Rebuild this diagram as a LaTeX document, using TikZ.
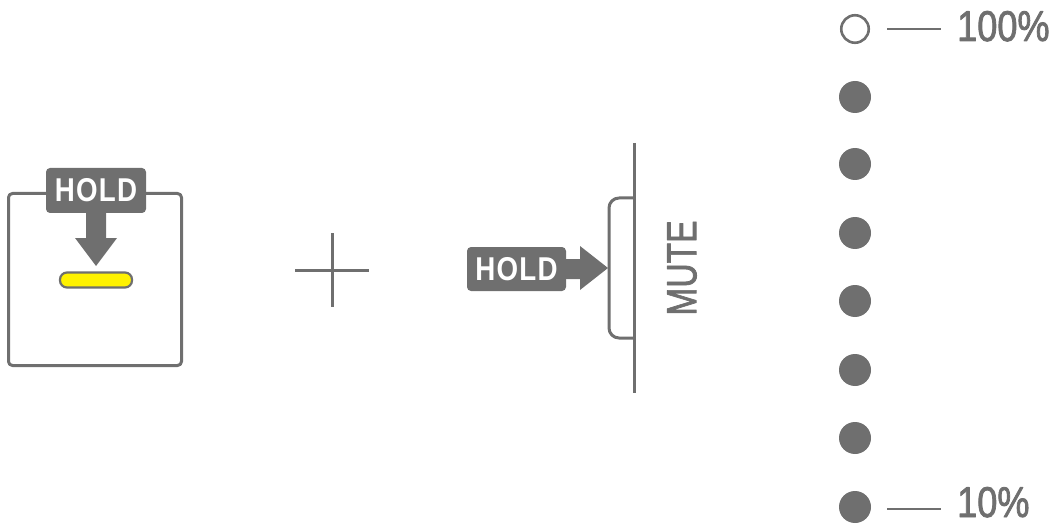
\documentclass[tikz,border=0pt]{standalone}
\usepackage{fontspec}
\setmainfont{Liberation Sans}
\definecolor{ink}{HTML}{6F6F6F}
\definecolor{lit}{HTML}{FFF200}
\begin{document}
\begin{tikzpicture}[x=1pt,y=-1pt,line join=round,
  holdlbl/.style={fill=ink,rounded corners=4pt,minimum width=100pt,minimum height=45pt,inner sep=0pt,text=white,font=\fontsize{33}{33}\selectfont\bfseries},
  blockarrow/.style={fill=ink,draw=none},
  fulldot/.style={circle,fill=ink,minimum size=32pt,inner sep=0pt},
  emptydot/.style={circle,draw=ink,line width=2.6pt,minimum size=27.5pt,inner sep=0pt},
  leader/.style={draw=ink,line width=2.4pt},
  pct/.style={text=ink,inner sep=0pt,anchor=base west,font=\fontsize{43}{43}\selectfont\addfontfeature{FakeBold=2}},
  thin/.style={draw=ink,line width=3pt}]
\useasboundingbox (0,0) rectangle (1053,524);

% left pad
\node[draw=ink,line width=3pt,rounded corners=4pt,minimum width=173pt,minimum height=172pt,inner sep=0pt] (box) at (95,279.5) {};
\node[holdlbl] (hold1) at (96,190.5) {\scalebox{0.84}[1]{H\kern1.5ptO\kern1.5ptL\kern1.5ptD}};
\node[fill=lit,draw=ink,line width=2.2pt,rounded corners=7pt,minimum width=72pt,minimum height=15pt,inner sep=0pt] (bar) at (96,280) {};
\fill[blockarrow] ([xshift=-10pt]hold1.south) -- ([xshift=-10pt]hold1.south |- 0,238) -- (75,238) -- (96,266) -- (117,238) -- ([xshift=10pt]hold1.south |- 0,238) -- ([xshift=10pt]hold1.south) -- cycle;

% plus
\coordinate (pw) at (295,270);
\coordinate (pe) at (369,270);
\coordinate (pn) at (332,233);
\coordinate (ps) at (332,307);
\draw[thin] (pw) -- (pe);
\draw[thin] (pn) -- (ps);

% mute button
\coordinate (ltop) at (634,143);
\coordinate (lbot) at (634,393);
\draw[thin] (ltop) -- (lbot);
\draw[thin,rounded corners=10pt] (634,198) -- (609,198) -- (609,338) -- (634,338);
\node[holdlbl,minimum width=99pt,minimum height=44pt] (hold2) at (516.5,269) {\scalebox{0.84}[1]{H\kern1.5ptO\kern1.5ptL\kern1.5ptD}};
\fill[blockarrow] ([xshift=-2pt,yshift=10pt]hold2.east) -- (580,259) -- (580,246) -- (608,268) -- (580,290) -- (580,279) -- ([xshift=-2pt,yshift=-10pt]hold2.east) -- cycle;
\node[text=ink,rotate=90,inner sep=0pt,font=\fontsize{42}{42}\selectfont\addfontfeature{FakeBold=2}] (mute) at (682,268) {\scalebox{0.8}[1]{MUTE}};

% level dots
\node[emptydot] (d1) at (855,29) {};
\foreach \i/\y in {2/97,3/164,4/233,5/301,6/370,7/438,8/507}
  \node[fulldot] (d\i) at (855,\y) {};
\node[pct] (p100) at (957,41) {\scalebox{0.84}[1]{100\%}};
\node[pct] (p10) at (957,517) {\scalebox{0.84}[1]{10\%}};
\draw[leader] (887,29) -- (941,29);
\draw[leader] (887,509) -- (941,509);
\end{tikzpicture}
\end{document}
